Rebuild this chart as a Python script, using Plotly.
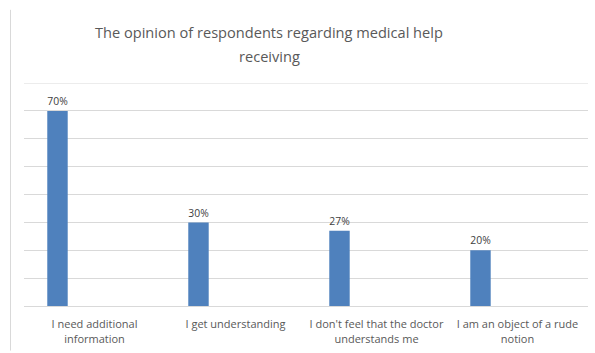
import plotly.graph_objects as go

categories = ["I need additional<br>information", "I get understanding",
              "I don't feel that the doctor<br>understands me", "I am an object of a rude<br>notion"]
values = [0.70, 0.30, 0.27, 0.20]
labels = ["70%", "30%", "27%", "20%"]
title_lines = ["The opinion of respondents regarding medical help", "receiving"]

FONT = "Open Sans"
W, H = 595, 353
L, R, T, B = 24, 7, 83, 45
ph = H - T - B

fig = go.Figure()
fig.add_trace(go.Bar(
    x=categories, y=values, text=labels, textposition="outside",
    textfont=dict(family=FONT, size=11, color="#404040"),
    marker=dict(color="#4f81bd", line=dict(width=0)),
    width=0.145, offset=-0.335, cliponaxis=False,
))

fig.update_layout(
    width=W, height=H,
    margin=dict(l=L, r=R, t=T, b=B),
    paper_bgcolor="white", plot_bgcolor="white",
    showlegend=False,
    xaxis=dict(showgrid=False, showline=True, linecolor="#d9d9d9", linewidth=1,
               ticks="", ticklabelstandoff=8,
               tickfont=dict(family=FONT, size=11, color="#595959")),
    yaxis=dict(range=[0, 0.8], dtick=0.1, showticklabels=False, showgrid=True,
               gridcolor="#d9d9d9", gridwidth=1, zeroline=False, showline=False),
)
for i, line in enumerate(title_lines):
    yc = [32, 56][i]
    fig.add_annotation(text=line, xref="paper", x=(269 - L) / (W - L - R), xanchor="center",
                       yref="paper", y=(H - B - yc) / ph, yanchor="middle", showarrow=False,
                       font=dict(family=FONT, size=14.6, color="#595959"))
# top gridline and chart-area left border
fig.add_shape(type="line", xref="paper", yref="y", x0=0, x1=1, y0=0.8, y1=0.8,
              line=dict(color="#d9d9d9", width=1))
fig.add_shape(type="line", xref="paper", yref="paper",
              x0=-0.0239, x1=-0.0239, y0=-0.2, y1=1.328,
              line=dict(color="#d9d9d9", width=1))

fig.write_html("out.html")
